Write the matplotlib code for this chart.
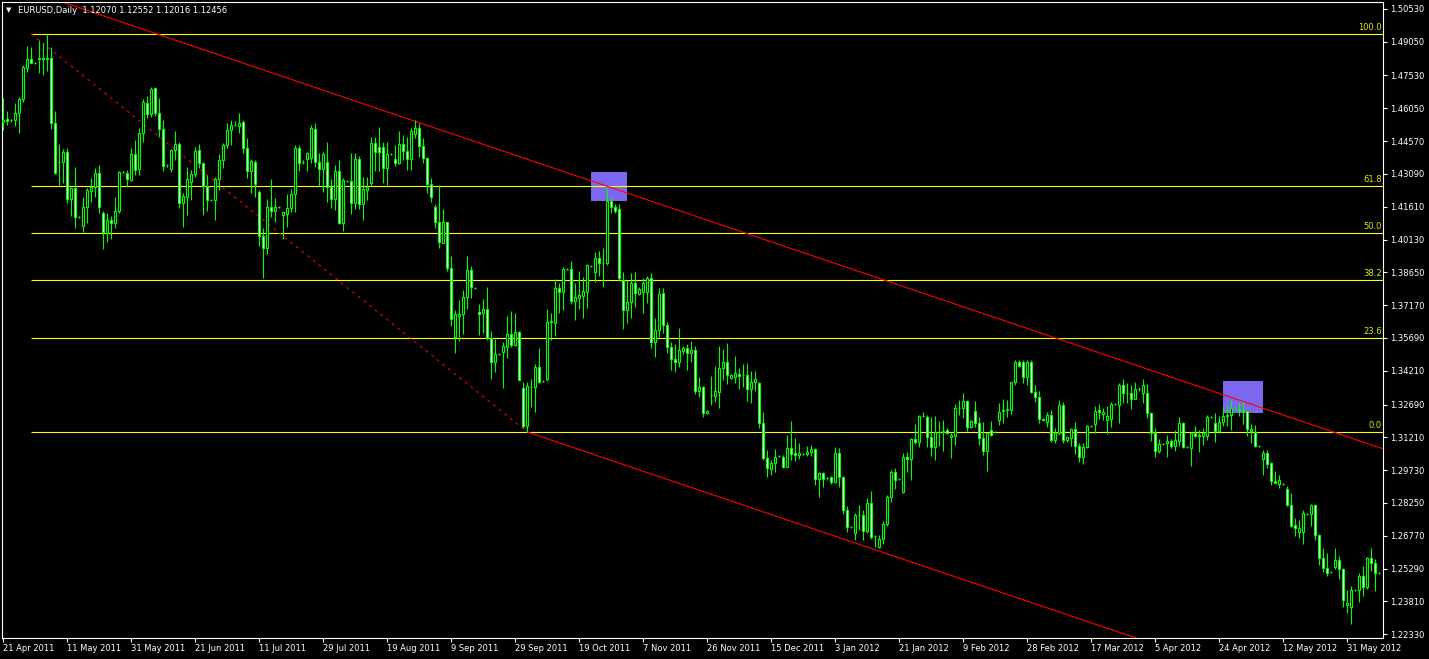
import matplotlib
matplotlib.use("Agg")
import matplotlib.pyplot as plt
from matplotlib.patches import Rectangle
import numpy as np

# EURUSD daily bars (bar index 0 = 21 Apr 2011)
opens = [
    1.4543, 1.4556, 1.4551, 1.4551, 1.4583, 1.4647, 1.4787, 1.4827, 1.4809, 1.4827,
    1.4832, 1.4830, 1.4832, 1.4539, 1.4363, 1.4363, 1.4408, 1.4196, 1.4245, 1.4115,
    1.4074, 1.4160, 1.4232, 1.4250, 1.4313, 1.4133, 1.4043, 1.4101, 1.4088, 1.4142,
    1.4318, 1.4313, 1.4282, 1.4399, 1.4331, 1.4493, 1.4629, 1.4579, 1.4696, 1.4584,
    1.4512, 1.4349, 1.4331, 1.4417, 1.4444, 1.4178, 1.4205, 1.4273, 1.4309, 1.4417,
    1.4358, 1.4255, 1.4191, 1.4191, 1.4286, 1.4372, 1.4439, 1.4507, 1.4530, 1.4525,
    1.4543, 1.4426, 1.4322, 1.4363, 1.4228, 1.4029, 1.3975, 1.4160, 1.4142, 1.4160,
    1.4124, 1.4130, 1.4155, 1.4218, 1.4426, 1.4363, 1.4376, 1.4380, 1.4512, 1.4363,
    1.4331, 1.4363, 1.4250, 1.4196, 1.4322, 1.4088, 1.4277, 1.4277, 1.4178, 1.4376,
    1.4173, 1.4236, 1.4268, 1.4448, 1.4430, 1.4430, 1.4336, 1.4399, 1.4376, 1.4358,
    1.4444, 1.4412, 1.4376, 1.4489, 1.4516, 1.4435, 1.4381, 1.4264, 1.4160, 1.4092,
    1.3997, 1.4092, 1.3885, 1.3573, 1.3668, 1.3677, 1.3754, 1.3876, 1.3794, 1.3686,
    1.3682, 1.3700, 1.3569, 1.3461, 1.3497, 1.3506, 1.3529, 1.3587, 1.3537, 1.3596,
    1.3344, 1.3172, 1.3350, 1.3349, 1.3438, 1.3375, 1.3384, 1.3641, 1.3636, 1.3794,
    1.3776, 1.3880, 1.3880, 1.3736, 1.3750, 1.3758, 1.3776, 1.3894, 1.3867, 1.3930,
    1.3907, 1.3907, 1.4187, 1.4160, 1.4151, 1.3831, 1.3695, 1.3731, 1.3817, 1.3768,
    1.3776, 1.3776, 1.3840, 1.3551, 1.3605, 1.3772, 1.3628, 1.3529, 1.3474, 1.3461,
    1.3510, 1.3524, 1.3501, 1.3515, 1.3330, 1.3348, 1.3231, 1.3312, 1.3307, 1.3325,
    1.3434, 1.3461, 1.3389, 1.3393, 1.3407, 1.3402, 1.3402, 1.3339, 1.3370, 1.3366,
    1.3186, 1.3028, 1.2978, 1.3005, 1.3037, 1.3032, 1.2987, 1.3073, 1.3051, 1.3042,
    1.3046, 1.3046, 1.3055, 1.3069, 1.2934, 1.2960, 1.2938, 1.2942, 1.2920, 1.3051,
    1.2942, 1.2793, 1.2717, 1.2690, 1.2771, 1.2771, 1.2699, 1.2825, 1.2676, 1.2626,
    1.2662, 1.2730, 1.2852, 1.2965, 1.2933, 1.2875, 1.3032, 1.3023, 1.3113, 1.3100,
    1.3217, 1.3213, 1.3123, 1.3078, 1.3145, 1.3145, 1.3154, 1.3123, 1.3127, 1.3253,
    1.3253, 1.3285, 1.3168, 1.3240, 1.3186, 1.3118, 1.3060, 1.3154, 1.3145, 1.3199,
    1.3240, 1.3244, 1.3244, 1.3370, 1.3461, 1.3461, 1.3393, 1.3461, 1.3325, 1.3303,
    1.3204, 1.3190, 1.3222, 1.3109, 1.3140, 1.3267, 1.3109, 1.3118, 1.3158, 1.3082,
    1.3033, 1.3078, 1.3172, 1.3181, 1.3244, 1.3226, 1.3199, 1.3204, 1.3271, 1.3267,
    1.3357, 1.3321, 1.3321, 1.3294, 1.3339, 1.3321, 1.3321, 1.3231, 1.3140, 1.3060,
    1.3091, 1.3096, 1.3104, 1.3082, 1.3105, 1.3186, 1.3078, 1.3073, 1.3140, 1.3127,
    1.3127, 1.3127, 1.3213, 1.3186, 1.3150, 1.3190, 1.3217, 1.3222, 1.3253, 1.3249,
    1.3244, 1.3240, 1.3149, 1.3145, 1.3082, 1.3024, 1.3050, 1.3005, 1.2924, 1.2911,
    1.2911, 1.2888, 1.2816, 1.2726, 1.2694, 1.2694, 1.2775, 1.2775, 1.2816, 1.2680,
    1.2577, 1.2532, 1.2514, 1.2537, 1.2568, 1.2528, 1.2365, 1.2356, 1.2432, 1.2432,
    1.2496, 1.2446, 1.2577, 1.2554, 1.2509,
]
highs = [
    1.4651, 1.4593, 1.4556, 1.4629, 1.4656, 1.4800, 1.4886, 1.4881, 1.4813, 1.4913,
    1.4899, 1.4940, 1.4881, 1.4593, 1.4444, 1.4421, 1.4426, 1.4250, 1.4340, 1.4120,
    1.4205, 1.4245, 1.4290, 1.4335, 1.4349, 1.4142, 1.4133, 1.4119, 1.4205, 1.4322,
    1.4322, 1.4327, 1.4426, 1.4462, 1.4516, 1.4647, 1.4660, 1.4701, 1.4700, 1.4651,
    1.4552, 1.4354, 1.4421, 1.4503, 1.4453, 1.4223, 1.4340, 1.4327, 1.4430, 1.4444,
    1.4358, 1.4304, 1.4196, 1.4295, 1.4399, 1.4448, 1.4539, 1.4552, 1.4548, 1.4584,
    1.4552, 1.4471, 1.4376, 1.4372, 1.4236, 1.4065, 1.4196, 1.4286, 1.4200, 1.4165,
    1.4137, 1.4218, 1.4241, 1.4439, 1.4439, 1.4372, 1.4408, 1.4530, 1.4539, 1.4403,
    1.4408, 1.4453, 1.4286, 1.4349, 1.4372, 1.4291, 1.4282, 1.4403, 1.4403, 1.4390,
    1.4295, 1.4295, 1.4476, 1.4476, 1.4520, 1.4453, 1.4453, 1.4404, 1.4439, 1.4503,
    1.4485, 1.4476, 1.4516, 1.4552, 1.4539, 1.4471, 1.4385, 1.4291, 1.4173, 1.4259,
    1.4151, 1.4092, 1.3939, 1.3695, 1.3740, 1.3785, 1.3939, 1.3894, 1.3799, 1.3722,
    1.3745, 1.3799, 1.3601, 1.3564, 1.3502, 1.3551, 1.3668, 1.3691, 1.3682, 1.3600,
    1.3370, 1.3371, 1.3384, 1.3452, 1.3524, 1.3380, 1.3700, 1.3682, 1.3835, 1.3817,
    1.3889, 1.3885, 1.3916, 1.3817, 1.3871, 1.3844, 1.3903, 1.3899, 1.3957, 1.3961,
    1.3975, 1.4245, 1.4205, 1.4173, 1.4173, 1.3867, 1.3831, 1.3862, 1.3867, 1.3799,
    1.3840, 1.3849, 1.3862, 1.3659, 1.3794, 1.3794, 1.3641, 1.3551, 1.3542, 1.3614,
    1.3533, 1.3542, 1.3555, 1.3533, 1.3393, 1.3352, 1.3244, 1.3397, 1.3443, 1.3533,
    1.3520, 1.3546, 1.3407, 1.3488, 1.3434, 1.3452, 1.3456, 1.3420, 1.3420, 1.3370,
    1.3235, 1.3064, 1.3019, 1.3069, 1.3042, 1.3042, 1.3131, 1.3195, 1.3118, 1.3096,
    1.3051, 1.3082, 1.3087, 1.3073, 1.2964, 1.2966, 1.2942, 1.2947, 1.3078, 1.3073,
    1.2947, 1.2811, 1.2722, 1.2780, 1.2816, 1.2793, 1.2847, 1.2879, 1.2680, 1.2680,
    1.2745, 1.2861, 1.2975, 1.2983, 1.2938, 1.3050, 1.3055, 1.3118, 1.3181, 1.3222,
    1.3235, 1.3222, 1.3213, 1.3217, 1.3195, 1.3199, 1.3163, 1.3140, 1.3271, 1.3289,
    1.3321, 1.3289, 1.3199, 1.3285, 1.3213, 1.3190, 1.3145, 1.3195, 1.3150, 1.3276,
    1.3294, 1.3289, 1.3370, 1.3470, 1.3470, 1.3470, 1.3470, 1.3470, 1.3357, 1.3330,
    1.3208, 1.3235, 1.3244, 1.3163, 1.3289, 1.3280, 1.3127, 1.3163, 1.3190, 1.3096,
    1.3096, 1.3177, 1.3177, 1.3262, 1.3271, 1.3253, 1.3262, 1.3280, 1.3276, 1.3366,
    1.3384, 1.3366, 1.3357, 1.3370, 1.3348, 1.3384, 1.3361, 1.3235, 1.3163, 1.3114,
    1.3096, 1.3131, 1.3114, 1.3154, 1.3213, 1.3190, 1.3082, 1.3145, 1.3172, 1.3154,
    1.3163, 1.3222, 1.3217, 1.3231, 1.3217, 1.3262, 1.3262, 1.3289, 1.3258, 1.3276,
    1.3280, 1.3244, 1.3181, 1.3177, 1.3087, 1.3064, 1.3064, 1.3010, 1.2969, 1.2951,
    1.2915, 1.2902, 1.2870, 1.2757, 1.2748, 1.2793, 1.2780, 1.2820, 1.2820, 1.2685,
    1.2622, 1.2600, 1.2518, 1.2622, 1.2586, 1.2532, 1.2432, 1.2450, 1.2437, 1.2509,
    1.2541, 1.2582, 1.2622, 1.2572, 1.2514,
]
lows = [
    1.4507, 1.4530, 1.4545, 1.4525, 1.4494, 1.4633, 1.4769, 1.4809, 1.4805, 1.4764,
    1.4755, 1.4773, 1.4512, 1.4309, 1.4259, 1.4268, 1.4178, 1.4119, 1.4065, 1.4110,
    1.4047, 1.4088, 1.4182, 1.4205, 1.4133, 1.3970, 1.4002, 1.4016, 1.4065, 1.4133,
    1.4313, 1.4255, 1.4277, 1.4304, 1.4304, 1.4453, 1.4561, 1.4566, 1.4570, 1.4476,
    1.4322, 1.4340, 1.4318, 1.4372, 1.4155, 1.4070, 1.4124, 1.4191, 1.4295, 1.4336,
    1.4124, 1.4142, 1.4186, 1.4101, 1.4236, 1.4336, 1.4426, 1.4439, 1.4525, 1.4493,
    1.4403, 1.4291, 1.4223, 1.4205, 1.3984, 1.3840, 1.3948, 1.4115, 1.4092, 1.4155,
    1.4016, 1.4070, 1.4137, 1.4137, 1.4322, 1.4354, 1.4322, 1.4358, 1.4340, 1.4255,
    1.4227, 1.4182, 1.4155, 1.4146, 1.4083, 1.4052, 1.4273, 1.4128, 1.4150, 1.4150,
    1.4101, 1.4191, 1.4255, 1.4322, 1.4322, 1.4268, 1.4259, 1.4394, 1.4345, 1.4354,
    1.4372, 1.4327, 1.4327, 1.4471, 1.4385, 1.4358, 1.4223, 1.4182, 1.4065, 1.3975,
    1.3997, 1.3871, 1.3623, 1.3501, 1.3556, 1.3587, 1.3700, 1.3750, 1.3790, 1.3582,
    1.3592, 1.3560, 1.3384, 1.3416, 1.3492, 1.3345, 1.3479, 1.3529, 1.3533, 1.3380,
    1.3163, 1.3145, 1.3258, 1.3235, 1.3366, 1.3370, 1.3375, 1.3560, 1.3578, 1.3682,
    1.3695, 1.3875, 1.3722, 1.3650, 1.3700, 1.3659, 1.3704, 1.3889, 1.3822, 1.3849,
    1.3799, 1.3898, 1.4133, 1.4133, 1.3831, 1.3610, 1.3637, 1.3659, 1.3709, 1.3763,
    1.3682, 1.3727, 1.3524, 1.3483, 1.3573, 1.3592, 1.3501, 1.3425, 1.3416, 1.3438,
    1.3497, 1.3425, 1.3461, 1.3316, 1.3303, 1.3213, 1.3226, 1.3267, 1.3280, 1.3253,
    1.3380, 1.3361, 1.3384, 1.3366, 1.3339, 1.3348, 1.3285, 1.3276, 1.3330, 1.3163,
    1.3019, 1.2942, 1.2951, 1.2965, 1.3032, 1.2983, 1.2987, 1.3019, 1.3015, 1.3024,
    1.3042, 1.3037, 1.3037, 1.2906, 1.2852, 1.2897, 1.2929, 1.2911, 1.2915, 1.2897,
    1.2775, 1.2694, 1.2712, 1.2658, 1.2703, 1.2658, 1.2690, 1.2663, 1.2626, 1.2620,
    1.2640, 1.2720, 1.2830, 1.2888, 1.2929, 1.2870, 1.2965, 1.2929, 1.3091, 1.3078,
    1.3213, 1.3078, 1.3037, 1.3019, 1.3082, 1.3060, 1.3136, 1.3028, 1.3087, 1.3222,
    1.3208, 1.3150, 1.3163, 1.3168, 1.3087, 1.3042, 1.2969, 1.3127, 1.3140, 1.3177,
    1.3186, 1.3213, 1.3226, 1.3357, 1.3438, 1.3366, 1.3357, 1.3321, 1.3280, 1.3186,
    1.3195, 1.3168, 1.3100, 1.3096, 1.3131, 1.3096, 1.3100, 1.3082, 1.3046, 1.3010,
    1.3001, 1.3073, 1.3168, 1.3140, 1.3204, 1.3199, 1.3136, 1.3168, 1.3267, 1.3186,
    1.3276, 1.3276, 1.3249, 1.3294, 1.3330, 1.3276, 1.3208, 1.3105, 1.3033, 1.3051,
    1.3087, 1.3033, 1.3073, 1.3060, 1.3082, 1.3073, 1.3073, 1.2992, 1.3122, 1.3055,
    1.3087, 1.3109, 1.3208, 1.3100, 1.3140, 1.3172, 1.3172, 1.3154, 1.3249, 1.3217,
    1.3181, 1.3127, 1.3096, 1.3078, 1.3078, 1.2951, 1.2983, 1.2906, 1.2915, 1.2893,
    1.2906, 1.2811, 1.2717, 1.2676, 1.2667, 1.2640, 1.2771, 1.2721, 1.2658, 1.2545,
    1.2514, 1.2496, 1.2509, 1.2527, 1.2483, 1.2356, 1.2329, 1.2279, 1.2428, 1.2378,
    1.2405, 1.2437, 1.2518, 1.2428, 1.2504,
]
closes = [
    1.4552, 1.4547, 1.4551, 1.4583, 1.4647, 1.4791, 1.4827, 1.4809, 1.4809, 1.4832,
    1.4827, 1.4828, 1.4539, 1.4313, 1.4363, 1.4408, 1.4196, 1.4245, 1.4115, 1.4115,
    1.4160, 1.4236, 1.4250, 1.4313, 1.4160, 1.4047, 1.4101, 1.4088, 1.4142, 1.4318,
    1.4318, 1.4286, 1.4399, 1.4327, 1.4493, 1.4633, 1.4579, 1.4692, 1.4584, 1.4512,
    1.4345, 1.4349, 1.4417, 1.4444, 1.4178, 1.4209, 1.4286, 1.4308, 1.4412, 1.4358,
    1.4255, 1.4191, 1.4191, 1.4286, 1.4372, 1.4439, 1.4507, 1.4530, 1.4530, 1.4539,
    1.4426, 1.4322, 1.4367, 1.4264, 1.4029, 1.3975, 1.4160, 1.4142, 1.4160, 1.4160,
    1.4137, 1.4155, 1.4218, 1.4426, 1.4358, 1.4363, 1.4403, 1.4516, 1.4363, 1.4331,
    1.4399, 1.4250, 1.4196, 1.4322, 1.4088, 1.4282, 1.4277, 1.4178, 1.4376, 1.4173,
    1.4241, 1.4250, 1.4448, 1.4408, 1.4408, 1.4336, 1.4399, 1.4399, 1.4358, 1.4444,
    1.4412, 1.4376, 1.4503, 1.4516, 1.4435, 1.4381, 1.4264, 1.4205, 1.4092, 1.4002,
    1.4092, 1.3885, 1.3655, 1.3677, 1.3677, 1.3754, 1.3876, 1.3799, 1.3794, 1.3677,
    1.3700, 1.3569, 1.3461, 1.3497, 1.3497, 1.3533, 1.3587, 1.3537, 1.3596, 1.3380,
    1.3172, 1.3353, 1.3349, 1.3438, 1.3371, 1.3375, 1.3641, 1.3645, 1.3794, 1.3776,
    1.3880, 1.3880, 1.3736, 1.3754, 1.3763, 1.3781, 1.3898, 1.3894, 1.3930, 1.3907,
    1.3907, 1.4187, 1.4160, 1.4142, 1.3840, 1.3695, 1.3731, 1.3817, 1.3772, 1.3790,
    1.3817, 1.3840, 1.3551, 1.3605, 1.3767, 1.3628, 1.3529, 1.3474, 1.3461, 1.3515,
    1.3524, 1.3501, 1.3515, 1.3330, 1.3348, 1.3231, 1.3240, 1.3312, 1.3330, 1.3434,
    1.3461, 1.3402, 1.3402, 1.3411, 1.3398, 1.3402, 1.3339, 1.3370, 1.3385, 1.3186,
    1.3028, 1.2983, 1.3005, 1.3032, 1.3037, 1.2987, 1.3073, 1.3046, 1.3042, 1.3051,
    1.3046, 1.3055, 1.3069, 1.2934, 1.2960, 1.2934, 1.2938, 1.2920, 1.3051, 1.2942,
    1.2793, 1.2717, 1.2717, 1.2771, 1.2771, 1.2699, 1.2825, 1.2672, 1.2676, 1.2662,
    1.2730, 1.2852, 1.2965, 1.2929, 1.2933, 1.3032, 1.3023, 1.3113, 1.3100, 1.3217,
    1.3217, 1.3123, 1.3078, 1.3145, 1.3145, 1.3150, 1.3140, 1.3132, 1.3253, 1.3253,
    1.3285, 1.3168, 1.3195, 1.3186, 1.3118, 1.3060, 1.3140, 1.3131, 1.3145, 1.3235,
    1.3244, 1.3249, 1.3370, 1.3461, 1.3443, 1.3393, 1.3461, 1.3325, 1.3303, 1.3204,
    1.3199, 1.3222, 1.3109, 1.3140, 1.3267, 1.3109, 1.3123, 1.3158, 1.3082, 1.3033,
    1.3078, 1.3172, 1.3172, 1.3240, 1.3235, 1.3235, 1.3217, 1.3271, 1.3271, 1.3357,
    1.3321, 1.3321, 1.3294, 1.3339, 1.3339, 1.3357, 1.3231, 1.3140, 1.3060, 1.3091,
    1.3091, 1.3104, 1.3082, 1.3109, 1.3186, 1.3078, 1.3078, 1.3140, 1.3127, 1.3131,
    1.3140, 1.3213, 1.3213, 1.3150, 1.3190, 1.3217, 1.3222, 1.3253, 1.3253, 1.3244,
    1.3240, 1.3158, 1.3158, 1.3082, 1.3082, 1.3050, 1.3001, 1.2924, 1.2915, 1.2929,
    1.2911, 1.2816, 1.2721, 1.2712, 1.2712, 1.2780, 1.2775, 1.2816, 1.2680, 1.2577,
    1.2532, 1.2509, 1.2514, 1.2568, 1.2528, 1.2388, 1.2374, 1.2432, 1.2432, 1.2496,
    1.2446, 1.2577, 1.2554, 1.2509, 1.2509,
]

# time axis labels, one every 16 bars
date_labels = ["21 Apr 2011", "11 May 2011", "31 May 2011", "21 Jun 2011",
               "11 Jul 2011", "29 Jul 2011", "19 Aug 2011", "9 Sep 2011",
               "29 Sep 2011", "19 Oct 2011", "7 Nov 2011", "26 Nov 2011",
               "15 Dec 2011", "3 Jan 2012", "21 Jan 2012", "9 Feb 2012",
               "28 Feb 2012", "17 Mar 2012", "5 Apr 2012", "24 Apr 2012",
               "12 May 2012", "31 May 2012"]
price_labels = [1.50530, 1.49050, 1.47530, 1.46050, 1.44570, 1.43090, 1.41610,
                1.40130, 1.38650, 1.37170, 1.35690, 1.34210, 1.32690, 1.31210,
                1.29730, 1.28250, 1.26770, 1.25290, 1.23810, 1.22330]

# Fibonacci retracement: swing high (bar 7) -> swing low (bar 131)
fib_high, fib_high_bar = 1.4940, 7
fib_low, fib_low_bar = 1.3145, 131
fib_levels = [100.0, 61.8, 50.0, 38.2, 23.6, 0.0]

# channel: upper line through two highs, parallel line from the low
chan_a = (103, 1.4546)
chan_b = (151, 1.4253)

# highlight boxes (bar from, bar to, price low, price high)
boxes = [(146.9, 155.9, 1.4188, 1.4318), (304.9, 314.9, 1.3231, 1.3375)]

header = "EURUSD,Daily  1.12070 1.12552 1.12016 1.12456"

GREEN = "#00ff00"
W, H = 1429, 659
fig = plt.figure(figsize=(W / 100, H / 100), dpi=100, facecolor="black")
ax = fig.add_axes([2 / W, 1 - 638 / H, 1381 / W, 636 / H])
ax.set_facecolor("black")
n = len(closes)
idx = np.arange(n)
ax.set_xlim(-0.325, 344.925)
ax.set_ylim(1.22160, 1.50843)

for b0, b1, p0, p1 in boxes:
    ax.add_patch(Rectangle((b0, p0), b1 - b0, p1 - p0, facecolor="#7b68ee",
                           edgecolor="none", zorder=1))

# fib levels and the dotted swing line
fib_prices = [fib_low + lv / 100 * (fib_high - fib_low) for lv in fib_levels]
ax.hlines(fib_prices, fib_high_bar, 344.925, color="#ffff00", lw=0.8, zorder=2)
for lv, p in zip(fib_levels, fib_prices):
    ax.text(344.6, p + 0.0008, f"{lv:.1f}", color="#e6e600", fontsize=6,
            ha="right", va="bottom", zorder=6)
ax.plot([fib_high_bar, fib_low_bar], [fib_high, fib_low], color="#ff0000",
        lw=0.8, linestyle=(0, (2.5, 4)), zorder=2)

# channel lines
slope = (chan_b[1] - chan_a[1]) / (chan_b[0] - chan_a[0])
xs = np.array([-5, 350])
ax.plot(xs, chan_a[1] + slope * (xs - chan_a[0]), color="#ff0000", lw=0.8, zorder=2)
xl = np.array([fib_low_bar, 350])
ax.plot(xl, fib_low + slope * (xl - fib_low_bar), color="#ff0000", lw=0.8, zorder=2)

# candles
o = np.array(opens); c = np.array(closes)
ax.vlines(idx, lows, highs, color=GREEN, lw=0.8, zorder=3)
fill = np.where(c < o, "white", "black")
ax.bar(idx, np.abs(c - o), bottom=np.minimum(o, c), width=0.5, color=fill,
       edgecolor=GREEN, linewidth=0.8, zorder=4)

for s in ax.spines.values():
    s.set_color("white")
    s.set_linewidth(0.8)
ax.set_xticks(np.arange(len(date_labels)) * 16)
ax.set_xticklabels(date_labels, ha="left")
ax.yaxis.tick_right()
ax.set_yticks(price_labels)
ax.set_yticklabels([f"{p:.5f}" for p in price_labels])
ax.tick_params(axis="both", colors="white", labelsize=6, length=3, width=0.8)
ax.tick_params(axis="x", pad=1.5)
ax.tick_params(axis="y", pad=2)

fig.text(6 / W, 1 - 10.5 / H, "\u25bc", color="white", fontsize=5, va="center")
fig.text(18 / W, 1 - 10.5 / H, header, color="white", fontsize=6, va="center")

fig.savefig("out.png", dpi=100, facecolor="black")
